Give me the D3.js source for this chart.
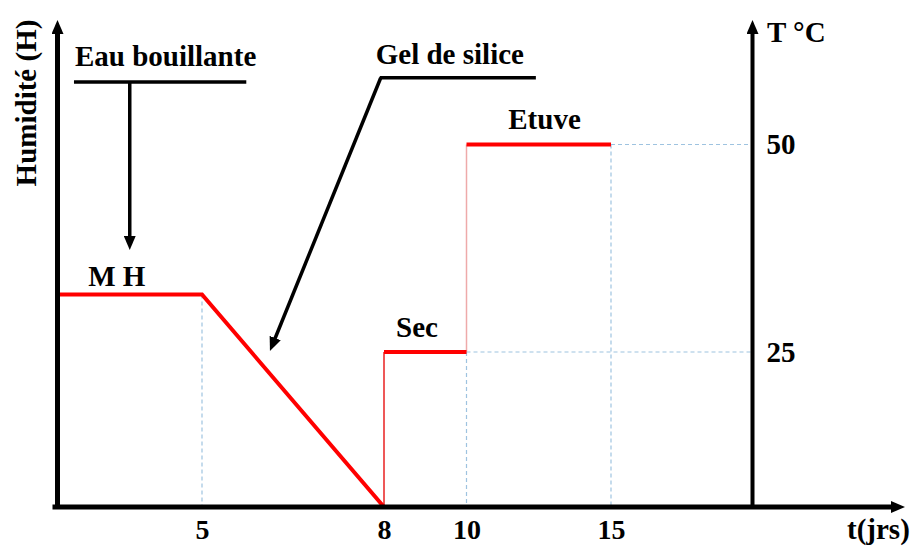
<!DOCTYPE html>
<html lang="fr">
<head>
<meta charset="utf-8">
<style>
body { margin: 0; background: #fff; }
</style>
</head>
<body>
<svg width="911" height="546"></svg>
<script src="https://d3js.org/d3.v7.min.js"></script>
<script>
// humidity phase (relative units, MH = 1)
var humT = [0, 5, 8];
var humH = [1, 1, 0];
// temperature steps
var stepFrom = [8, 10];
var stepTo = [10, 15];
var stepTemp = [25, 50];
var phaseLabels = ["M H", "Sec", "Etuve"];
var xTicks = [5, 8, 10, 15];
var tTicks = [25, 50];
// annotations (data units)
var noteText = ["Eau bouillante", "Gel de silice"];
var noteBar = [[0.57, 5.73], [7.93, 12.4]];
var noteBarH = [2.0, 2.02];
var noteTip = [[2.5, 1.21], [6.12, 0.734]];

var FONT = "'Liberation Serif', 'Times New Roman', Times, serif";

var svg = d3.select("svg");

// time axis is not linear in the original, keep the same breaks
var x = d3.scaleLinear().domain([0, 5, 8, 10, 15, 20]).range([57.5, 202, 384, 466.5, 611, 752.5]);
var h = d3.scaleLinear().domain([0, 1]).range([507, 294.5]);
var t = d3.scaleLinear().domain([25, 50]).range([352, 144.5]);

var blue = "#9ec3e0", red = "#ff0000";

function label(sel, size) {
    return sel.attr("font-family", FONT)
        .style("font-family", FONT)
        .attr("font-weight", "bold")
        .attr("font-size", size)
        .attr("fill", "#000");
}

svg.append("defs").append("marker")
    .attr("id", "arrow")
    .attr("viewBox", "0 -6 14 12")
    .attr("refX", 4).attr("refY", 0)
    .attr("markerWidth", 14).attr("markerHeight", 12)
    .attr("markerUnits", "userSpaceOnUse")
    .attr("orient", "auto")
    .append("path")
    .attr("d", "M0,-6 L14,0 L0,6 Z")
    .attr("fill", "#000");

// dashed guides
var guides = [
    [x(5), h(1), x(5), h(0)],
    [x(10), t(25), x(10), h(0)],
    [x(15), t(50), x(15), h(0)],
    [x(10), t(25), x(20), t(25)],
    [x(15), t(50), x(20), t(50)]
];
svg.selectAll(".guide").data(guides).enter().append("line")
    .attr("class", "guide")
    .attr("x1", function (d) { return d[0]; })
    .attr("y1", function (d) { return d[1]; })
    .attr("x2", function (d) { return d[2]; })
    .attr("y2", function (d) { return d[3]; })
    .attr("stroke", blue).attr("stroke-width", 1.2)
    .attr("stroke-dasharray", "4,3");

// thin risers
svg.append("line")
    .attr("x1", x(8)).attr("y1", h(0)).attr("x2", x(8)).attr("y2", t(25))
    .attr("stroke", "#e82020").attr("stroke-width", 1.5);
svg.append("line")
    .attr("x1", x(10)).attr("y1", t(25)).attr("x2", x(10)).attr("y2", t(50))
    .attr("stroke", "#eeaaaa").attr("stroke-width", 1.5);

// humidity curve
var hum = humT.map(function (d, i) { return [d, humH[i]]; });
svg.append("path")
    .datum(hum)
    .attr("d", d3.line().x(function (d) { return x(d[0]); }).y(function (d) { return h(d[1]); }))
    .attr("fill", "none").attr("stroke", red).attr("stroke-width", 4)
    .attr("stroke-linejoin", "miter");

// temperature plateaus
svg.selectAll(".step").data(stepTemp).enter().append("line")
    .attr("class", "step")
    .attr("x1", function (d, i) { return x(stepFrom[i]); })
    .attr("x2", function (d, i) { return x(stepTo[i]); })
    .attr("y1", function (d) { return t(d); })
    .attr("y2", function (d) { return t(d); })
    .attr("stroke", red).attr("stroke-width", 4);

// phase labels
var labelPos = [[(humT[0] + humT[1]) / 2 - 0.45, h(1) - 9],
                [(stepFrom[0] + stepTo[0]) / 2 - 0.2, t(25) - 15],
                [(stepFrom[1] + stepTo[1]) / 2 + 0.2, t(50) - 16]];
label(svg.selectAll(".phase").data(phaseLabels).enter().append("text"), 29)
    .attr("class", "phase")
    .attr("x", function (d, i) { return x(labelPos[i][0]); })
    .attr("y", function (d, i) { return labelPos[i][1]; })
    .attr("text-anchor", "middle")
    .text(function (d) { return d; });

// annotations
noteText.forEach(function (txt, i) {
    var y0 = h(noteBarH[i]);
    svg.append("line")
        .attr("x1", x(noteBar[i][0])).attr("x2", x(noteBar[i][1]))
        .attr("y1", y0).attr("y2", y0)
        .attr("stroke", "#000").attr("stroke-width", 3.5);
    var sx = i === 0 ? x(noteTip[i][0]) : x(noteBar[i][0]) + 1;
    var ex = x(noteTip[i][0]), ey = h(noteTip[i][1]);
    var dx = ex - sx, dy = ey - y0, len = Math.sqrt(dx * dx + dy * dy);
    svg.append("line")
        .attr("x1", sx).attr("y1", y0)
        .attr("x2", ex - dx / len * 10).attr("y2", ey - dy / len * 10)
        .attr("stroke", "#000").attr("stroke-width", 3.5)
        .attr("marker-end", "url(#arrow)");
    label(svg.append("text"), 29)
        .attr("x", x(noteBar[i][0]) + (i === 0 ? 1 : -4))
        .attr("y", y0 - (i === 0 ? 16 : 14))
        .text(txt);
});

// axes lines with arrows
svg.append("line")
    .attr("x1", 52.5).attr("y1", h(0)).attr("x2", 905 - 10).attr("y2", h(0))
    .attr("stroke", "#000").attr("stroke-width", 5)
    .attr("marker-end", "url(#arrow)");
svg.append("line")
    .attr("x1", x(0)).attr("y1", h(0) + 2).attr("x2", x(0)).attr("y2", 20 + 10)
    .attr("stroke", "#000").attr("stroke-width", 5)
    .attr("marker-end", "url(#arrow)");
svg.append("line")
    .attr("x1", x(20)).attr("y1", h(0)).attr("x2", x(20)).attr("y2", 20 + 10)
    .attr("stroke", "#000").attr("stroke-width", 4)
    .attr("marker-end", "url(#arrow)");

// tick labels
var gx = svg.append("g")
    .attr("transform", "translate(0," + h(0) + ")")
    .call(d3.axisBottom(x).tickValues(xTicks).tickSize(0));
gx.select(".domain").remove();
label(gx.selectAll("text"), 28)
    .attr("y", 32).attr("dy", "0");

var gt = svg.append("g")
    .attr("transform", "translate(" + x(20) + ",0)")
    .call(d3.axisRight(t).tickValues(tTicks).tickSize(0).tickPadding(14));
gt.select(".domain").remove();
label(gt.selectAll("text"), 29);

// axis titles
label(svg.append("text"), 29)
    .attr("transform", "translate(36,103) rotate(-90)")
    .attr("text-anchor", "middle")
    .text("Humidité (H)");
label(svg.append("text"), 29)
    .attr("x", 767).attr("y", 42)
    .text("T °C");
label(svg.append("text"), 29)
    .attr("x", 847).attr("y", 539)
    .text("t(jrs)");
</script>
</body>
</html>
